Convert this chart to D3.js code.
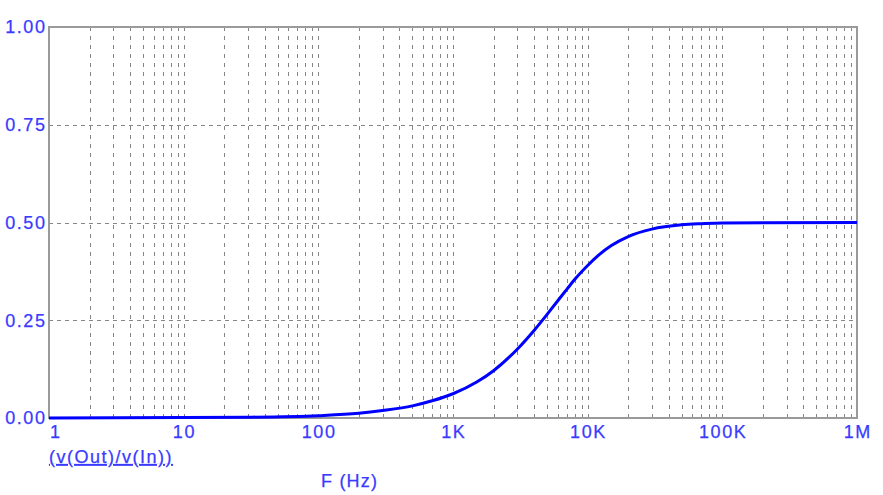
<!DOCTYPE html>
<html><head><meta charset="utf-8">
<script src="https://cdn.jsdelivr.net/npm/d3@7"></script>
<style>
html,body{margin:0;padding:0;background:#fff;}
svg{display:block;}
text{font-family:"Liberation Sans",Arial,sans-serif;}
</style></head>
<body><svg id="chart" width="883" height="495"></svg>
<script>
// Frequency (Hz) and read values of v(Out)/v(In)
const freqs = [1, 10, 30, 100, 200, 300, 500, 700, 1000, 1500, 2000, 3000, 4000, 5000, 6000, 7000, 8000, 10000, 12000, 15000, 20000, 30000, 50000, 70000, 100000, 1000000];
const gains = [0.000, 0.001, 0.002, 0.006, 0.012, 0.019, 0.031, 0.044, 0.062, 0.092, 0.121, 0.176, 0.224, 0.265, 0.300, 0.329, 0.354, 0.390, 0.416, 0.441, 0.464, 0.483, 0.494, 0.497, 0.499, 0.500];
const xTickValues = [1, 10, 100, 1000, 10000, 100000, 1000000];
const xTickLabels = ["1", "10", "100", "1K", "10K", "100K", "1M"];
const yTickValues = [0, 0.25, 0.5, 0.75, 1.0];
const yTickLabels = ["0.00", "0.25", "0.50", "0.75", "1.00"];
const traceLabel = "(v(Out)/v(In))";
const xAxisTitle = "F (Hz)";

const L = 49, R = 857, T = 27, B = 418;
const textColor = "#3a3aff";
const LS = 1.6;
const svg = d3.select("#chart");

const x = d3.scaleLog().domain([1, 1e6]).range([L, R]);
const y = d3.scaleLinear().domain([0, 1]).range([B, T]);

function styleText(sel, ls) {
  sel.attr("fill", textColor).attr("stroke", textColor).attr("stroke-width", 0.25)
    .style("font-size", "18px").style("letter-spacing", ls + "px");
}

// vertical grid: 2..10 per decade
const vgrid = [];
for (let d = 1; d < 1e6; d *= 10) for (let k = 2; k <= 10; k++) if (d * k < 1e6) vgrid.push(d * k);
svg.append("g").selectAll("line").data(vgrid).join("line")
  .attr("x1", d => Math.round(x(d)) + 0.5).attr("x2", d => Math.round(x(d)) + 0.5)
  .attr("y1", T).attr("y2", B)
  .attr("stroke", "#858585").attr("stroke-width", 1).attr("stroke-dasharray", "4,5");

// horizontal grid
svg.append("g").selectAll("line").data([0.25, 0.5, 0.75]).join("line")
  .attr("x1", L).attr("x2", R)
  .attr("y1", d => Math.round(y(d)) + 0.5).attr("y2", d => Math.round(y(d)) + 0.5)
  .attr("stroke", "#858585").attr("stroke-width", 1).attr("stroke-dasharray", "4,4");

// frame
svg.append("rect").attr("x", L).attr("y", T).attr("width", R - L).attr("height", B - T)
  .attr("fill", "none").attr("stroke", "#9a9a9a").attr("stroke-width", 2);

// trace
const pts = freqs.map((f, i) => [f, gains[i]]);
svg.append("path").datum(pts)
  .attr("d", d3.line().x(d => x(d[0])).y(d => y(d[1])).curve(d3.curveMonotoneX))
  .attr("fill", "none").attr("stroke", "#0000ff").attr("stroke-width", 3);

// y labels
svg.append("g").selectAll("text").data(yTickValues).join("text")
  .attr("x", L - 4 + LS).attr("y", d => y(d)).attr("dy", "0.36em")
  .attr("text-anchor", "end")
  .call(styleText, LS)
  .text((d, i) => yTickLabels[i]);

// x labels
svg.append("g").selectAll("text").data(xTickValues).join("text")
  .attr("x", (d, i) => i === 0 ? x(d) + 1 : x(d) + LS / 2).attr("y", 438)
  .attr("text-anchor", (d, i) => i === 0 ? "start" : "middle")
  .call(styleText, LS)
  .text((d, i) => xTickLabels[i]);

// trace label (underlined)
svg.append("text").attr("x", L).attr("y", 463)
  .call(styleText, 1.5)
  .style("text-decoration", "underline")
  .text(traceLabel);

// x axis title
svg.append("text").attr("x", 321).attr("y", 487)
  .call(styleText, 1.2)
  .text(xAxisTitle);
</script>
</body></html>
